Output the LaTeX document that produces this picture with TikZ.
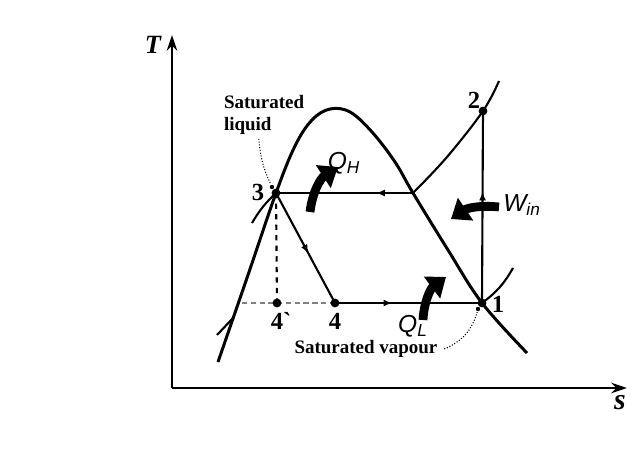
\documentclass[tikz,border=0pt]{standalone}
\usepackage{fontspec}
\setmainfont{Liberation Serif}
\setsansfont{Liberation Sans}
\usetikzlibrary{arrows.meta,decorations.markings}
\begin{document}
\begin{tikzpicture}[x=0.02cm, y=-0.02cm, line width=1.2pt,
    dot/.style={circle, fill, inner sep=0pt, minimum size=5pt},
    smalldot/.style={circle, fill, inner sep=0pt, minimum size=2.5pt},
    num/.style={font=\bfseries\fontsize{14}{16}\selectfont},
    satlabel/.style={font=\bfseries\fontsize{10.8}{12.5}\selectfont, align=left},
    heat/.style={font=\sffamily\itshape\fontsize{14}{16}\selectfont},
    heatarrow/.style={line width=5pt, -{Triangle[length=10pt,width=15pt]}},
    flowarrow/.style={postaction={decorate}, decoration={markings,
        mark=at position #1 with {\arrow{Latex[length=5pt,width=4pt]}}}},
    leader/.style={densely dotted, line width=0.6pt},
    axis/.style={line width=1.3pt, -{Stealth[length=9pt,width=6pt]}}]
  \useasboundingbox (0,0) rectangle (636,466);
  \coordinate (origin) at (172,388);
  \coordinate (ttop) at (172,35);
  \coordinate (sright) at (627,388);
  \draw[axis] (origin) -- (ttop);
  \draw[axis] (origin) -- (sright);
  \node[font=\bfseries\itshape\fontsize{15}{17}\selectfont] (tlab) at (153,45) {T};
  \node[font=\bfseries\itshape\fontsize{17}{19}\selectfont] (slab) at (620,403) {s};

  \coordinate (p1) at (482,303);
  \coordinate (p2) at (483,111);
  \coordinate (p3) at (276,193);
  \coordinate (p4) at (335,303);
  \coordinate (p4b) at (277,303);
  \coordinate (satv) at (413,193);
  \coordinate (domeleft) at (242,303);

  \draw[line width=1.7pt] plot[smooth, tension=0.6] coordinates {(218,362) (248,275)
    (p3) (295,146) (312,120) (330,109) (350,112) (372,132) (395,162) (satv)
    (448,250) (p1) (527,353)};
  \draw plot[smooth, tension=0.6] coordinates {(satv) (447,157) (p2) (499,81)};
  \draw (p1) to[bend right=12] (513,268);
  \draw (252,223) to[bend left=8] (p3);
  \draw (217,335) -- (234,317);

  \draw[flowarrow=0.27] (satv) -- (p3);
  \draw[flowarrow=0.55] (p3) -- (p4);
  \draw[flowarrow=0.39] (p4) -- (p1);
  \draw[flowarrow=0.58] (p1) -- (p2);
  \draw[dashed] (p3) -- (p4b);
  \draw[gray, densely dashed, line width=0.8pt] (domeleft) -- (p4);

  \foreach \p in {p1,p2,p3,p4,p4b} \node[dot] at (\p) {};

  \node[num] (l3) at (258,192) {3};
  \node[num] (l2) at (474,100) {2};
  \node[num] (l1) at (498,304) {1};
  \node[num] (l4b) at (281,321) {4\textasciigrave};
  \node[num] (l4) at (335,321) {4};

  \node[satlabel, anchor=north west, inner sep=0pt] (liq) at (223,94) {Saturated\\liquid};
  \node[satlabel] (vap) at (366,349) {Saturated vapour};
  \node[smalldot] (liqdot) at (272,187) {};
  \node[smalldot] (vapdot) at (478,309) {};
  \draw[leader] ([xshift=-3pt,yshift=-2pt]liq.south) to[bend right=10] (liqdot);
  \draw[leader] (vap.east) to[bend right=25] (vapdot);

  \node[heat] (qh) at (344,163) {Q\textsubscript{H}};
  \node[heat] (win) at (522,205) {W\textsubscript{in}};
  \node[heat] (ql) at (413,326) {Q\textsubscript{L}};
  \coordinate (qhtail) at (310,212);
  \coordinate (qhtip) at (338,167);
  \coordinate (qltail) at (423,320);
  \coordinate (qltip) at (446,277);
  \coordinate (wtail) at (499,207);
  \coordinate (wtip) at (451,219);
  \draw[heatarrow] (qhtail) to[bend left=25] (qhtip);
  \draw[heatarrow] (qltail) to[bend left=25] (qltip);
  \draw[heatarrow] (wtail) to[bend right=20] (wtip);
\end{tikzpicture}
\end{document}
